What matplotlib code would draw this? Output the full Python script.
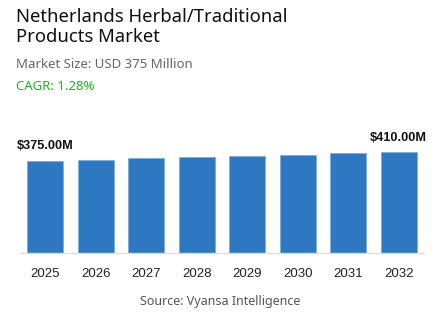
import matplotlib.pyplot as plt

years = ["2025", "2026", "2027", "2028", "2029", "2030", "2031", "2032"]
values = [375.0, 379.8, 384.7, 389.6, 394.6, 399.6, 404.7, 410.0]
labels = {0: "$375.00M", 7: "$410.00M"}

title = "Netherlands Herbal/Traditional\nProducts Market"
subtitle = "Market Size: USD 375 Million"
cagr = "CAGR: 1.28%"
source = "Source: Vyansa Intelligence"

W, H = 443, 332
fig = plt.figure(figsize=(W / 100, H / 100), dpi=100)

# axes placed in pixel terms: baseline at y=253, top at y=120
ax = fig.add_axes([20 / W, (H - 253) / H, 404 / W, 133 / H])
x = range(len(years))
ax.bar(x, values, width=0.72, color="#2E78C2", edgecolor="#7FAEDD", linewidth=0.6)
ax.set_xlim(-0.5, len(years) - 0.5)
ax.set_ylim(0, 133 * 375 / 92.3)

for i, txt in labels.items():
    ax.annotate(txt, (i, values[i]), xytext=(0, 6), textcoords="offset points",
                ha="center", va="bottom", fontsize=9.2, fontweight="bold",
                family="Liberation Sans", color="#111111")

ax.set_xticks(list(x))
ax.set_xticklabels(years, family="Liberation Sans", fontsize=9.5, color="#222222")
ax.tick_params(axis="x", length=0, pad=11)
ax.set_yticks([])
for s in ["top", "left", "right"]:
    ax.spines[s].set_visible(False)
ax.spines["bottom"].set_color("#DDDDDD")
ax.spines["bottom"].set_linewidth(1)

fig.text(16 / W, 1 - 8 / H, title, ha="left", va="top", fontsize=13.3,
         family="Noto Sans", fontweight="medium", color="#111111", linespacing=1.12)
fig.text(16 / W, 1 - 64 / H, subtitle, ha="left", va="center", fontsize=9.5,
         family="Noto Sans", color="#666666")
fig.text(16 / W, 1 - 86 / H, cagr, ha="left", va="center", fontsize=9.5,
         family="Noto Sans", color="#1DB31D")
fig.text(220 / W, 1 - 301 / H, source, ha="center", va="center", fontsize=9,
         family="Noto Sans", color="#555555")

fig.savefig("out.png", dpi=100)
